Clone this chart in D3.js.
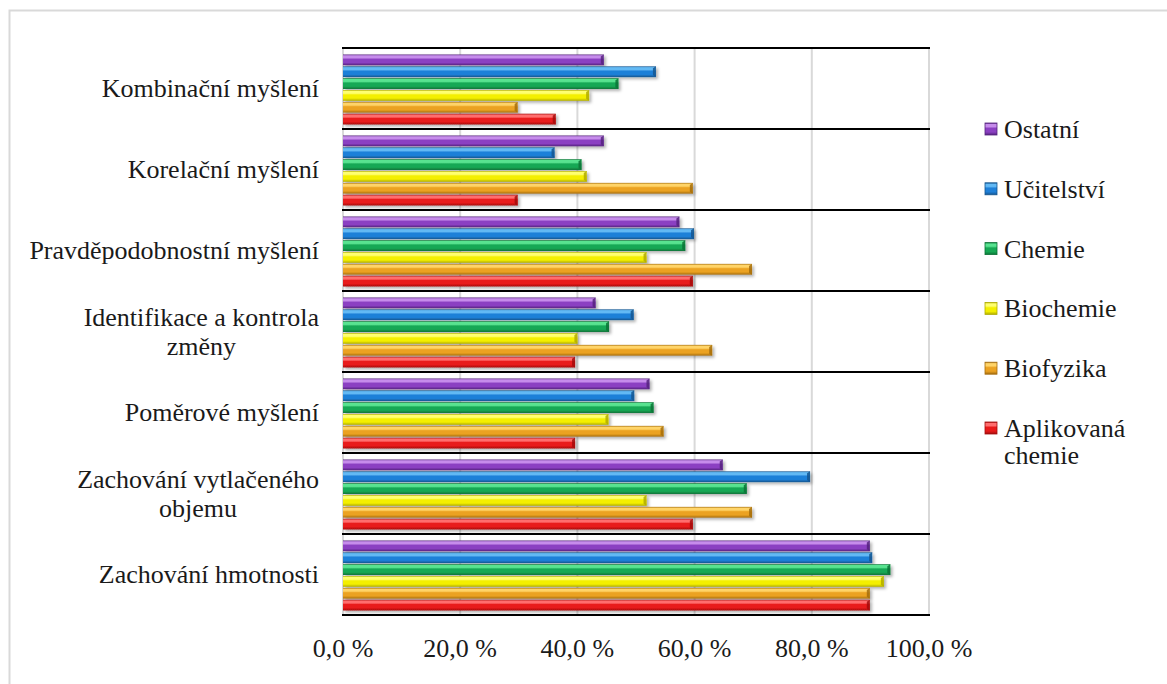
<!DOCTYPE html>
<html>
<head>
<meta charset="utf-8">
<script src="https://cdn.jsdelivr.net/npm/d3@7"></script>
<style>
  html, body { margin: 0; padding: 0; background: #fff; }
</style>
</head>
<body>
<svg id="chart" width="1167" height="684"></svg>
<script>
// ---- data ----
const categories = [
  ["Kombinační myšlení"],
  ["Korelační myšlení"],
  ["Pravděpodobnostní myšlení"],
  ["Identifikace a kontrola", "změny"],
  ["Poměrové myšlení"],
  ["Zachování vytlačeného", "objemu"],
  ["Zachování hmotnosti"]
];
const seriesNames = ["Ostatní", "Učitelství", "Chemie", "Biochemie", "Biofyzika", "Aplikovaná chemie"];
const legendLines = [["Ostatní"], ["Učitelství"], ["Chemie"], ["Biochemie"], ["Biofyzika"], ["Aplikovaná", "chemie"]];
// values in % per category, in series order above
const ostatni    = [44.5, 44.5, 57.4, 43.1, 52.3, 64.8, 89.9];
const ucitelstvi = [53.4, 36.1, 59.9, 49.6, 49.7, 79.7, 90.3];
const chemie     = [47.0, 40.7, 58.4, 45.4, 53.0, 68.9, 93.4];
const biochemie  = [42.0, 41.6, 51.8, 40.0, 45.3, 51.8, 92.3];
const biofyzika  = [29.8, 59.7, 69.8, 63.0, 54.7, 69.8, 89.9];
const aplikovana = [36.3, 29.8, 59.7, 39.6, 39.6, 59.7, 89.9];
const seriesValues = [ostatni, ucitelstvi, chemie, biochemie, biofyzika, aplikovana];
const xTicks = [0, 20, 40, 60, 80, 100];
const tickLabels = ["0,0 %", "20,0 %", "40,0 %", "60,0 %", "80,0 %", "100,0 %"];

const colors = [
  {base: "#8b40c2", light: "#c68ceb", dark: "#55237e"},
  {base: "#1f80d8", light: "#62b9f4", dark: "#14558f"},
  {base: "#17a854", light: "#58e390", dark: "#0c7236"},
  {base: "#f4ef00", light: "#ffff70", dark: "#b0ac00"},
  {base: "#eba222", light: "#ffd468", dark: "#a56d0e"},
  {base: "#e81a1a", light: "#ff6e6e", dark: "#a30d0d"}
];

const FONT = "Liberation Serif";
const FS = 26;

// ---- layout ----
const svg = d3.select("#chart");
const plot = {left: 343, right: 929, top: 48, bottom: 615};

// outer frame (light gray)
svg.append("rect").attr("x", 9.5).attr("y", 10.5).attr("width", 1180).attr("height", 700)
  .attr("fill", "none").attr("stroke", "#d9d9d9").attr("stroke-width", 2);

const x = d3.scaleLinear().domain([0, 100]).range([plot.left, plot.right]);
const catNames = categories.map(c => c.join(" "));
const y = d3.scaleBand().domain(catNames).range([plot.top, plot.bottom]).padding(0);
const yInner = d3.scaleBand().domain(seriesNames).range([6.5, y.bandwidth() - 4.5]).paddingInner(0.09);

const defs = svg.append("defs");
colors.forEach((c, i) => {
  const g = defs.append("linearGradient").attr("id", "g" + i)
    .attr("x1", 0).attr("y1", 0).attr("x2", 0).attr("y2", 1);
  g.append("stop").attr("offset", "0%").attr("stop-color", c.dark);
  g.append("stop").attr("offset", "12%").attr("stop-color", c.light);
  g.append("stop").attr("offset", "30%").attr("stop-color", c.light);
  g.append("stop").attr("offset", "45%").attr("stop-color", c.base);
  g.append("stop").attr("offset", "75%").attr("stop-color", c.base);
  g.append("stop").attr("offset", "100%").attr("stop-color", c.dark);
});
const f = defs.append("filter").attr("id", "shadow").attr("x", "-5%").attr("y", "-50%").attr("width", "115%").attr("height", "250%");
f.append("feDropShadow").attr("dx", 2).attr("dy", 2).attr("stdDeviation", 1.6)
  .attr("flood-color", "#000").attr("flood-opacity", 0.3);

// vertical gridlines
svg.append("g").selectAll("line").data(xTicks).join("line")
  .attr("x1", d => x(d)).attr("x2", d => x(d))
  .attr("y1", plot.top).attr("y2", plot.bottom)
  .attr("stroke", "#d9d9d9").attr("stroke-width", 2);

// bars
const gCat = svg.append("g").selectAll("g").data(catNames).join("g")
  .attr("transform", d => `translate(0,${y(d)})`);
gCat.each(function(cat, ci) {
  const g = d3.select(this);
  seriesNames.forEach((s, si) => {
    const v = seriesValues[si][ci];
    const by = yInner(s), bh = yInner.bandwidth();
    const bg = g.append("g").attr("filter", "url(#shadow)");
    bg.append("rect").attr("x", x(0)).attr("y", by)
      .attr("width", x(v) - x(0)).attr("height", bh)
      .attr("fill", `url(#g${si})`);
    bg.append("path")
      .attr("d", `M${x(v) - 3},${by + 2} L${x(v)},${by} L${x(v)},${by + bh} L${x(v) - 3},${by + bh - 2} Z`)
      .attr("fill", colors[si].dark).attr("opacity", 0.85);
  });
});

// black category separators
const seps = catNames.map(c => y(c)).concat([plot.bottom]);
svg.append("g").selectAll("line").data(seps).join("line")
  .attr("x1", plot.left - 1).attr("x2", plot.right + 1)
  .attr("y1", d => d).attr("y2", d => d)
  .attr("stroke", "#000").attr("stroke-width", 2.2);

// category labels
const lab = svg.append("g").selectAll("text").data(categories).join("text")
  .attr("font-family", FONT).attr("fill", "#1a1a1a")
  .attr("font-size", FS)
  .attr("text-anchor", d => d.length > 1 ? "middle" : "end")
  .attr("dominant-baseline", "central");
lab.each(function(lines, i) {
  const t = d3.select(this);
  const cy = y(catNames[i]) + y.bandwidth() / 2;
  if (lines.length === 1) {
    t.attr("x", 319).attr("y", cy).text(lines[0]);
  } else {
    t.attr("x", 0).attr("y", 0);
    lines.forEach((ln, k) => {
      t.append("tspan").attr("y", cy + (k - (lines.length - 1) / 2) * 29).text(ln);
    });
  }
});
lab.filter(d => d.length > 1).each(function() {
  const t = d3.select(this);
  const w = d3.max(t.selectAll("tspan").nodes(), n => n.getComputedTextLength());
  t.selectAll("tspan").attr("x", 319 - w / 2);
});

// x tick labels
svg.append("g").selectAll("text").data(xTicks).join("text")
  .attr("font-family", FONT).attr("fill", "#1a1a1a")
  .attr("x", d => x(d)).attr("y", 648)
  .attr("text-anchor", "middle").attr("dominant-baseline", "central")
  .attr("font-size", FS)
  .text((d, i) => tickLabels[i]);

// legend
const leg = svg.append("g").selectAll("g").data(seriesNames).join("g")
  .attr("transform", (d, i) => `translate(985,${129 + i * 59.8})`);
leg.append("rect").attr("x", 0).attr("y", -6).attr("width", 12).attr("height", 12)
  .attr("fill", (d, i) => `url(#g${i})`).attr("stroke", (d, i) => colors[i].dark).attr("stroke-width", 0.8);
leg.append("text").attr("x", 19).attr("y", 0)
  .attr("font-family", FONT).attr("fill", "#1a1a1a")
  .attr("font-size", FS).attr("dominant-baseline", "central")
  .each(function(d, i) {
    const t = d3.select(this);
    legendLines[i].forEach((ln, k) => {
      t.append("tspan").attr("x", 19).attr("y", k * 27).text(ln);
    });
  });
</script>
</body>
</html>
